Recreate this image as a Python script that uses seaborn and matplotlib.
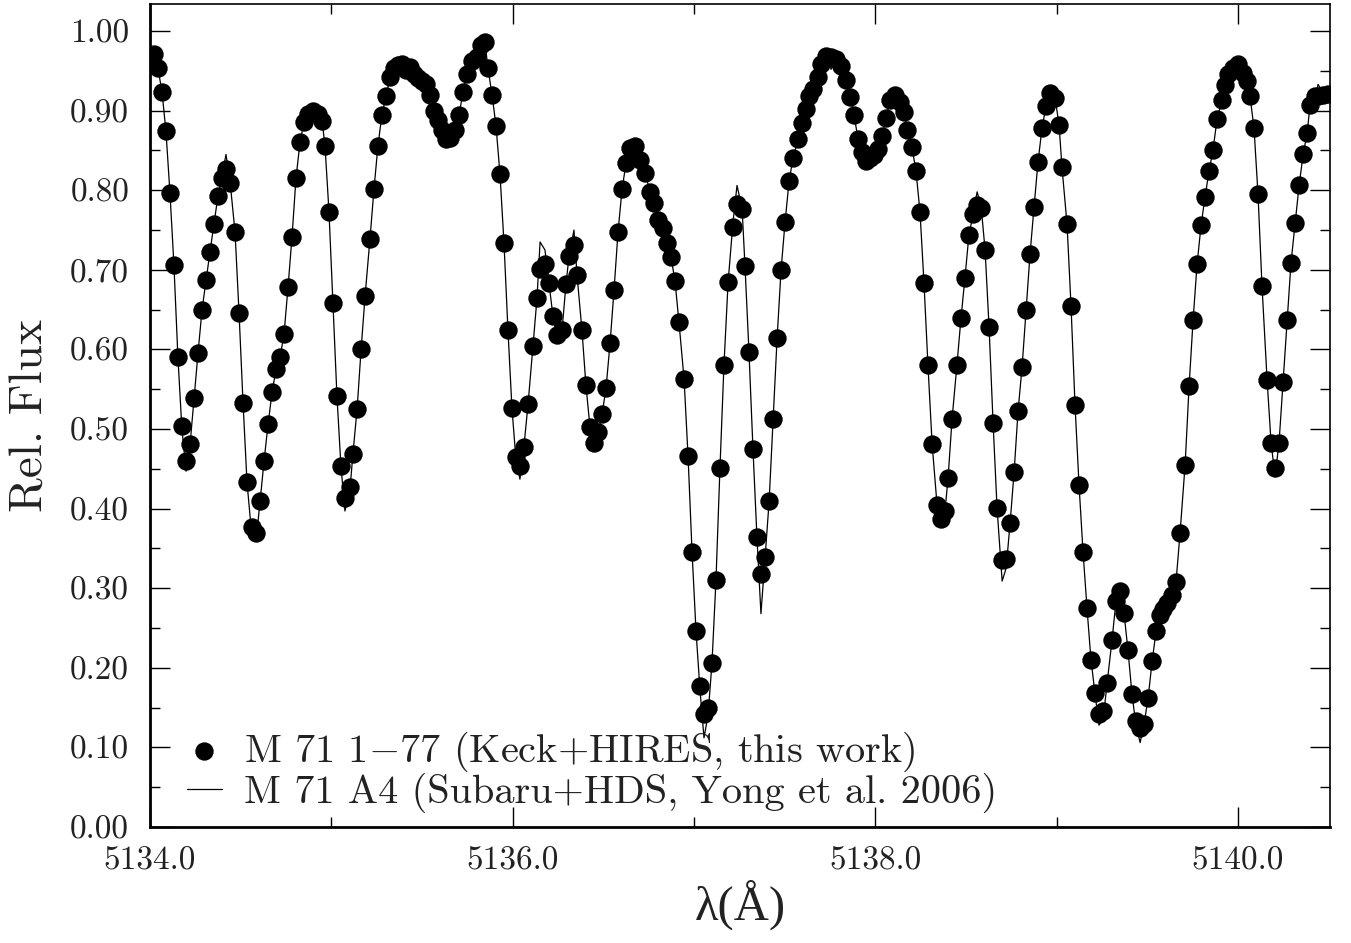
import matplotlib
matplotlib.use("Agg")
import matplotlib.pyplot as plt
import matplotlib.ticker as mticker
import seaborn as sns
import pandas as pd

# ---------------- data ----------------
wave_dots = [
    5134.022, 5134.044, 5134.066, 5134.088, 5134.110, 5134.132, 5134.154, 5134.176, 5134.199, 5134.221,
    5134.243, 5134.265, 5134.287, 5134.309, 5134.331, 5134.353, 5134.375, 5134.397, 5134.419, 5134.441,
    5134.469, 5134.491, 5134.513, 5134.535, 5134.563, 5134.585, 5134.607, 5134.629, 5134.651, 5134.673,
    5134.695, 5134.717, 5134.739, 5134.761, 5134.783, 5134.805, 5134.827, 5134.849, 5134.871, 5134.899,
    5134.926, 5134.949, 5134.965, 5134.987, 5135.009, 5135.031, 5135.053, 5135.075, 5135.103, 5135.119,
    5135.142, 5135.164, 5135.186, 5135.213, 5135.235, 5135.257, 5135.279, 5135.301, 5135.324, 5135.346,
    5135.368, 5135.390, 5135.412, 5135.434, 5135.456, 5135.478, 5135.500, 5135.522, 5135.544, 5135.566,
    5135.588, 5135.610, 5135.632, 5135.654, 5135.682, 5135.704, 5135.726, 5135.748, 5135.776, 5135.803,
    5135.825, 5135.847, 5135.864, 5135.886, 5135.908, 5135.930, 5135.952, 5135.974, 5135.996, 5136.018,
    5136.040, 5136.062, 5136.085, 5136.112, 5136.134, 5136.151, 5136.178, 5136.200, 5136.222, 5136.244,
    5136.272, 5136.294, 5136.311, 5136.338, 5136.355, 5136.382, 5136.404, 5136.426, 5136.449, 5136.471,
    5136.493, 5136.515, 5136.537, 5136.559, 5136.581, 5136.603, 5136.625, 5136.647, 5136.675, 5136.702,
    5136.730, 5136.757, 5136.779, 5136.801, 5136.829, 5136.851, 5136.873, 5136.895, 5136.917, 5136.945,
    5136.967, 5136.989, 5137.011, 5137.033, 5137.055, 5137.077, 5137.099, 5137.121, 5137.143, 5137.165,
    5137.188, 5137.215, 5137.237, 5137.265, 5137.281, 5137.303, 5137.325, 5137.347, 5137.369, 5137.392,
    5137.414, 5137.436, 5137.458, 5137.480, 5137.502, 5137.524, 5137.546, 5137.574, 5137.596, 5137.618,
    5137.634, 5137.656, 5137.684, 5137.700, 5137.728, 5137.756, 5137.783, 5137.811, 5137.838, 5137.860,
    5137.882, 5137.904, 5137.926, 5137.949, 5137.971, 5137.993, 5138.015, 5138.037, 5138.059, 5138.081,
    5138.108, 5138.136, 5138.158, 5138.175, 5138.202, 5138.224, 5138.246, 5138.268, 5138.290, 5138.313,
    5138.340, 5138.362, 5138.384, 5138.401, 5138.423, 5138.450, 5138.472, 5138.494, 5138.516, 5138.539,
    5138.561, 5138.583, 5138.605, 5138.627, 5138.649, 5138.671, 5138.699, 5138.721, 5138.743, 5138.765,
    5138.787, 5138.809, 5138.831, 5138.853, 5138.875, 5138.897, 5138.919, 5138.941, 5138.963, 5138.991,
    5139.013, 5139.029, 5139.057, 5139.079, 5139.101, 5139.123, 5139.145, 5139.167, 5139.189, 5139.211,
    5139.233, 5139.256, 5139.278, 5139.305, 5139.327, 5139.349, 5139.371, 5139.393, 5139.415, 5139.437,
    5139.460, 5139.482, 5139.504, 5139.526, 5139.548, 5139.570, 5139.587, 5139.609, 5139.636, 5139.658,
    5139.680, 5139.708, 5139.730, 5139.752, 5139.774, 5139.796, 5139.818, 5139.840, 5139.862, 5139.884,
    5139.912, 5139.928, 5139.945, 5139.973, 5140.000, 5140.028, 5140.050, 5140.066, 5140.088, 5140.110,
    5140.132, 5140.160, 5140.182, 5140.204, 5140.226, 5140.248, 5140.270, 5140.292, 5140.315, 5140.337,
    5140.359, 5140.381, 5140.397, 5140.425, 5140.441, 5140.469, 5140.496,
]

flux_dots = [
    0.971, 0.953, 0.924, 0.874, 0.797, 0.706, 0.590, 0.504, 0.460, 0.481,
    0.539, 0.596, 0.650, 0.687, 0.723, 0.758, 0.793, 0.815, 0.827, 0.809,
    0.747, 0.646, 0.533, 0.433, 0.377, 0.370, 0.409, 0.460, 0.506, 0.546,
    0.575, 0.590, 0.619, 0.678, 0.741, 0.815, 0.860, 0.886, 0.896, 0.899,
    0.896, 0.887, 0.856, 0.773, 0.658, 0.541, 0.453, 0.413, 0.427, 0.469,
    0.525, 0.600, 0.667, 0.739, 0.801, 0.856, 0.895, 0.918, 0.942, 0.954,
    0.957, 0.958, 0.951, 0.955, 0.946, 0.941, 0.937, 0.933, 0.920, 0.900,
    0.888, 0.876, 0.864, 0.866, 0.876, 0.894, 0.924, 0.946, 0.962, 0.967,
    0.983, 0.986, 0.953, 0.920, 0.881, 0.820, 0.734, 0.624, 0.526, 0.465,
    0.453, 0.478, 0.532, 0.604, 0.664, 0.701, 0.707, 0.684, 0.642, 0.618,
    0.624, 0.682, 0.718, 0.731, 0.693, 0.624, 0.555, 0.503, 0.483, 0.496,
    0.519, 0.552, 0.608, 0.675, 0.748, 0.801, 0.834, 0.853, 0.855, 0.838,
    0.822, 0.798, 0.784, 0.762, 0.752, 0.734, 0.716, 0.686, 0.634, 0.563,
    0.466, 0.346, 0.246, 0.177, 0.142, 0.149, 0.206, 0.310, 0.451, 0.580,
    0.685, 0.754, 0.783, 0.777, 0.705, 0.597, 0.475, 0.364, 0.318, 0.339,
    0.409, 0.512, 0.614, 0.700, 0.760, 0.811, 0.841, 0.864, 0.884, 0.902,
    0.918, 0.927, 0.942, 0.958, 0.969, 0.968, 0.965, 0.956, 0.938, 0.917,
    0.895, 0.865, 0.848, 0.837, 0.840, 0.844, 0.852, 0.868, 0.891, 0.914,
    0.920, 0.911, 0.898, 0.876, 0.854, 0.824, 0.773, 0.684, 0.580, 0.481,
    0.405, 0.387, 0.397, 0.439, 0.513, 0.581, 0.639, 0.690, 0.744, 0.770,
    0.781, 0.778, 0.725, 0.628, 0.508, 0.401, 0.336, 0.337, 0.382, 0.446,
    0.523, 0.578, 0.650, 0.720, 0.779, 0.836, 0.878, 0.906, 0.922, 0.916,
    0.882, 0.829, 0.757, 0.654, 0.530, 0.430, 0.346, 0.275, 0.210, 0.168,
    0.142, 0.146, 0.181, 0.235, 0.284, 0.296, 0.269, 0.222, 0.167, 0.133,
    0.124, 0.130, 0.162, 0.208, 0.246, 0.266, 0.274, 0.281, 0.292, 0.308,
    0.369, 0.455, 0.554, 0.637, 0.707, 0.756, 0.792, 0.824, 0.851, 0.889,
    0.914, 0.932, 0.946, 0.953, 0.958, 0.947, 0.937, 0.918, 0.878, 0.795,
    0.680, 0.562, 0.483, 0.451, 0.483, 0.559, 0.637, 0.709, 0.759, 0.807,
    0.845, 0.872, 0.907, 0.918, 0.919, 0.920, 0.921,
]

wave_line = wave_dots
flux_line = [
    0.971, 0.953, 0.924, 0.874, 0.797, 0.706, 0.590, 0.500, 0.447, 0.481,
    0.539, 0.596, 0.650, 0.687, 0.723, 0.758, 0.793, 0.817, 0.845, 0.812,
    0.747, 0.646, 0.533, 0.433, 0.362, 0.360, 0.409, 0.460, 0.506, 0.546,
    0.575, 0.590, 0.619, 0.678, 0.741, 0.815, 0.860, 0.886, 0.896, 0.888,
    0.896, 0.887, 0.856, 0.773, 0.658, 0.541, 0.453, 0.397, 0.425, 0.469,
    0.525, 0.600, 0.667, 0.739, 0.801, 0.856, 0.895, 0.918, 0.942, 0.954,
    0.957, 0.958, 0.951, 0.948, 0.946, 0.941, 0.937, 0.933, 0.920, 0.900,
    0.888, 0.872, 0.855, 0.858, 0.876, 0.894, 0.924, 0.946, 0.962, 0.967,
    0.983, 0.986, 0.953, 0.920, 0.881, 0.820, 0.734, 0.624, 0.526, 0.462,
    0.437, 0.478, 0.532, 0.604, 0.664, 0.735, 0.725, 0.684, 0.642, 0.615,
    0.624, 0.682, 0.718, 0.750, 0.693, 0.624, 0.555, 0.503, 0.480, 0.496,
    0.519, 0.552, 0.608, 0.675, 0.748, 0.801, 0.834, 0.853, 0.855, 0.838,
    0.822, 0.798, 0.784, 0.762, 0.752, 0.734, 0.716, 0.686, 0.634, 0.563,
    0.466, 0.346, 0.246, 0.172, 0.112, 0.140, 0.206, 0.310, 0.451, 0.580,
    0.685, 0.760, 0.806, 0.777, 0.705, 0.597, 0.475, 0.364, 0.268, 0.339,
    0.409, 0.512, 0.614, 0.700, 0.760, 0.811, 0.841, 0.864, 0.884, 0.902,
    0.918, 0.927, 0.942, 0.958, 0.966, 0.952, 0.965, 0.956, 0.938, 0.917,
    0.895, 0.865, 0.848, 0.837, 0.840, 0.844, 0.852, 0.868, 0.891, 0.914,
    0.920, 0.911, 0.898, 0.876, 0.854, 0.824, 0.773, 0.684, 0.580, 0.481,
    0.405, 0.387, 0.397, 0.439, 0.513, 0.581, 0.639, 0.690, 0.744, 0.770,
    0.798, 0.780, 0.725, 0.628, 0.508, 0.401, 0.309, 0.325, 0.382, 0.446,
    0.523, 0.578, 0.650, 0.720, 0.779, 0.836, 0.878, 0.906, 0.922, 0.916,
    0.882, 0.829, 0.757, 0.654, 0.530, 0.430, 0.346, 0.275, 0.210, 0.168,
    0.128, 0.135, 0.181, 0.235, 0.284, 0.296, 0.269, 0.222, 0.167, 0.128,
    0.106, 0.130, 0.162, 0.208, 0.246, 0.266, 0.274, 0.281, 0.292, 0.308,
    0.369, 0.455, 0.554, 0.637, 0.707, 0.756, 0.792, 0.824, 0.851, 0.889,
    0.914, 0.932, 0.946, 0.953, 0.958, 0.947, 0.937, 0.918, 0.878, 0.795,
    0.680, 0.562, 0.483, 0.440, 0.483, 0.559, 0.637, 0.709, 0.759, 0.807,
    0.845, 0.872, 0.907, 0.915, 0.933, 0.922, 0.921,
]

label_dots = r"M 71 1$-$77 (Keck+HIRES, this work)"
label_line = "M 71 A4 (Subaru+HDS, Yong et al. 2006)"
xlabel_text = "λ(Å)"
ylabel_text = "Rel. Flux"

# ---------------- style ----------------
sns.set_style("ticks")
plt.rcParams["font.family"] = ["cmr10", "DejaVu Serif"]
plt.rcParams["mathtext.fontset"] = "cm"
plt.rcParams["axes.formatter.use_mathtext"] = True
plt.rcParams["axes.unicode_minus"] = False
text_col = "#222222"

fig = plt.figure(figsize=(13.51, 9.43), dpi=100)
ax = fig.add_axes([150 / 1351, 1 - 827 / 943, 1180 / 1351, 823 / 943])

df_dots = pd.DataFrame({"wave": wave_dots, "flux": flux_dots})
df_line = pd.DataFrame({"wave": wave_line, "flux": flux_line})

sns.lineplot(data=df_line, x="wave", y="flux", ax=ax, color="black", lw=0.9,
             estimator=None, sort=False, label=label_line, zorder=3)
sns.scatterplot(data=df_dots, x="wave", y="flux", ax=ax, color="black", s=175,
                linewidth=0, label=label_dots, zorder=2)

ax.set_xlim(5134.0, 5140.507)
ax.set_ylim(0.0, 1.034)

ax.xaxis.set_major_locator(mticker.MultipleLocator(2.0))
ax.xaxis.set_minor_locator(mticker.MultipleLocator(1.0))
ax.xaxis.set_major_formatter(mticker.FormatStrFormatter("%.1f"))
ax.yaxis.set_major_locator(mticker.MultipleLocator(0.1))
ax.yaxis.set_minor_locator(mticker.MultipleLocator(0.05))
ax.yaxis.set_major_formatter(mticker.FormatStrFormatter("%.2f"))

ax.tick_params(which="both", direction="in", top=True, right=True, width=1.0,
               colors="black", labelcolor=text_col)
ax.tick_params(which="major", length=14.5, labelsize=24)
ax.tick_params(which="minor", length=7.5)
ax.tick_params(axis="y", which="major", pad=15)
ax.tick_params(axis="x", which="major", pad=14)

for side in ["left", "bottom"]:
    ax.spines[side].set_linewidth(2.0)
for side in ["top", "right"]:
    ax.spines[side].set_linewidth(1.2)
for sp in ax.spines.values():
    sp.set_color("black")

ax.set_xlabel(xlabel_text, fontsize=35, color=text_col, labelpad=3,
              family=["Liberation Serif", "DejaVu Serif"])
ax.set_ylabel(ylabel_text, fontsize=34, color=text_col, labelpad=14)

handles, labels = ax.get_legend_handles_labels()
order = [labels.index(label_dots), labels.index(label_line)]
leg = ax.legend([handles[i] for i in order], [labels[i] for i in order],
                loc="lower left", bbox_to_anchor=(0.031, 0.017), frameon=False,
                fontsize=29, handlelength=0.88, handletextpad=0.55,
                labelspacing=-0.02, borderpad=0, borderaxespad=0, markerscale=1.0)
for t in leg.get_texts():
    t.set_color(text_col)

fig.savefig("out.png", dpi=100)
